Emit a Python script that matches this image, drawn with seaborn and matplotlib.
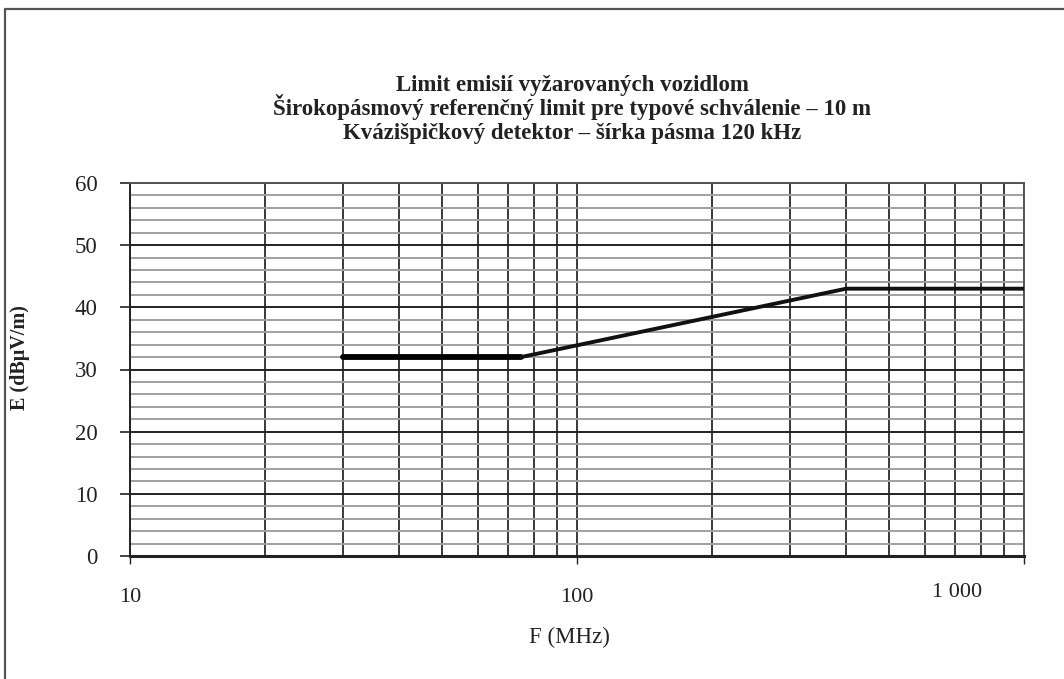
import numpy as np
import pandas as pd
import matplotlib
matplotlib.use("Agg")
import matplotlib.pyplot as plt
import seaborn as sns
from matplotlib.lines import Line2D
from matplotlib.ticker import FixedLocator, NullFormatter, MultipleLocator, LogLocator
import matplotlib.transforms as mtransforms

# ---- data ----
freq_mhz = [30, 75, 400, 1000]
limit_dbuv = [32, 32, 43, 43]
x_ticks = [10, 100, 1000]
x_tick_labels = ["10", "100", "1 000"]
y_ticks = [0, 10, 20, 30, 40, 50, 60]
title_lines = [
    "Limit emisií vyžarovaných vozidlom",
    "Širokopásmový referenčný limit pre typové schválenie – 10 m",
    "Kvázišpičkový detektor – šírka pásma 120 kHz",
]
x_label = "F (MHz)"
y_label = "E (dBμV/m)"

sns.set_theme(style="white")
plt.rcParams['font.family'] = ['Liberation Serif', 'DejaVu Serif']

W, H = 1064, 679
fig = plt.figure(figsize=(W / 100, H / 100), dpi=100)
ax = fig.add_axes([130 / W, 1 - 556 / H, (1024 - 130) / W, (556 - 183) / H])

df = pd.DataFrame({"F": freq_mhz, "E": limit_dbuv})
sns.lineplot(data=df.iloc[:2], x="F", y="E", color="black", lw=4.2, ax=ax, zorder=5)
sns.lineplot(data=df.iloc[1:], x="F", y="E", color="#111111", lw=2.8, ax=ax, zorder=5)

ax.set_xscale("log")
ax.set_xlim(10, 1000)
ax.set_ylim(0, 60)

ax.xaxis.set_major_locator(FixedLocator(x_ticks))
ax.set_xticklabels(x_tick_labels)
ax.xaxis.set_minor_locator(LogLocator(base=10, subs=np.arange(2, 10)))
ax.xaxis.set_minor_formatter(NullFormatter())
ax.yaxis.set_major_locator(FixedLocator(y_ticks))
ax.yaxis.set_minor_locator(MultipleLocator(2))

ax.grid(which="both", axis="x", color="#2a2a2a", lw=1.3)
ax.grid(which="major", axis="y", color="#222222", lw=1.4)
ax.grid(which="minor", axis="y", color="#a0a0a0", lw=1.4)
ax.set_axisbelow(True)

for s in ax.spines.values():
    s.set_color("#222222")
    s.set_linewidth(1.4)
ax.spines["right"].set_color("#555555")
ax.spines["top"].set_color("#555555")
ax.spines["bottom"].set_linewidth(2.2)

ax.tick_params(axis="y", which="major", direction="out", length=7.2, width=1.2,
               color="#222222", pad=16, labelsize=16.5, labelcolor="#222222", left=True)
ax.tick_params(axis="y", which="minor", length=0)
ax.tick_params(axis="x", which="major", direction="out", length=5.8, width=1.0,
               color="#222222", pad=17.5, labelsize=16, labelcolor="#222222", bottom=True)
ax.tick_params(axis="x", which="minor", length=0)

lbl = ax.get_xticklabels()[2]
lbl.set_transform(lbl.get_transform() + mtransforms.ScaledTranslation(-0.67, 0.05, fig.dpi_scale_trans))

ax.set_xlabel(x_label, fontsize=16.5, color="#222222")
ax.set_ylabel(y_label, fontsize=14.5, fontweight="bold", color="#222222")
ax.xaxis.set_label_coords((569 - 130) / 894, (556 - 627) / 373)
ax.yaxis.set_label_coords((30 - 130) / 894, (556 - 358) / 373)

for i, t in enumerate(title_lines):
    fig.text(572 / W, 1 - (91.5 + 24 * i) / H, t, ha="center", va="baseline",
             fontsize=16.5, fontweight="bold", color="#222222")

# page border
fig.add_artist(Line2D([5 / W, 5 / W], [0, 1 - 9 / H], transform=fig.transFigure, color="#555555", lw=1.6))
fig.add_artist(Line2D([5 / W, 1], [1 - 9 / H, 1 - 9 / H], transform=fig.transFigure, color="#555555", lw=1.6))

fig.savefig("out.png", dpi=100)
